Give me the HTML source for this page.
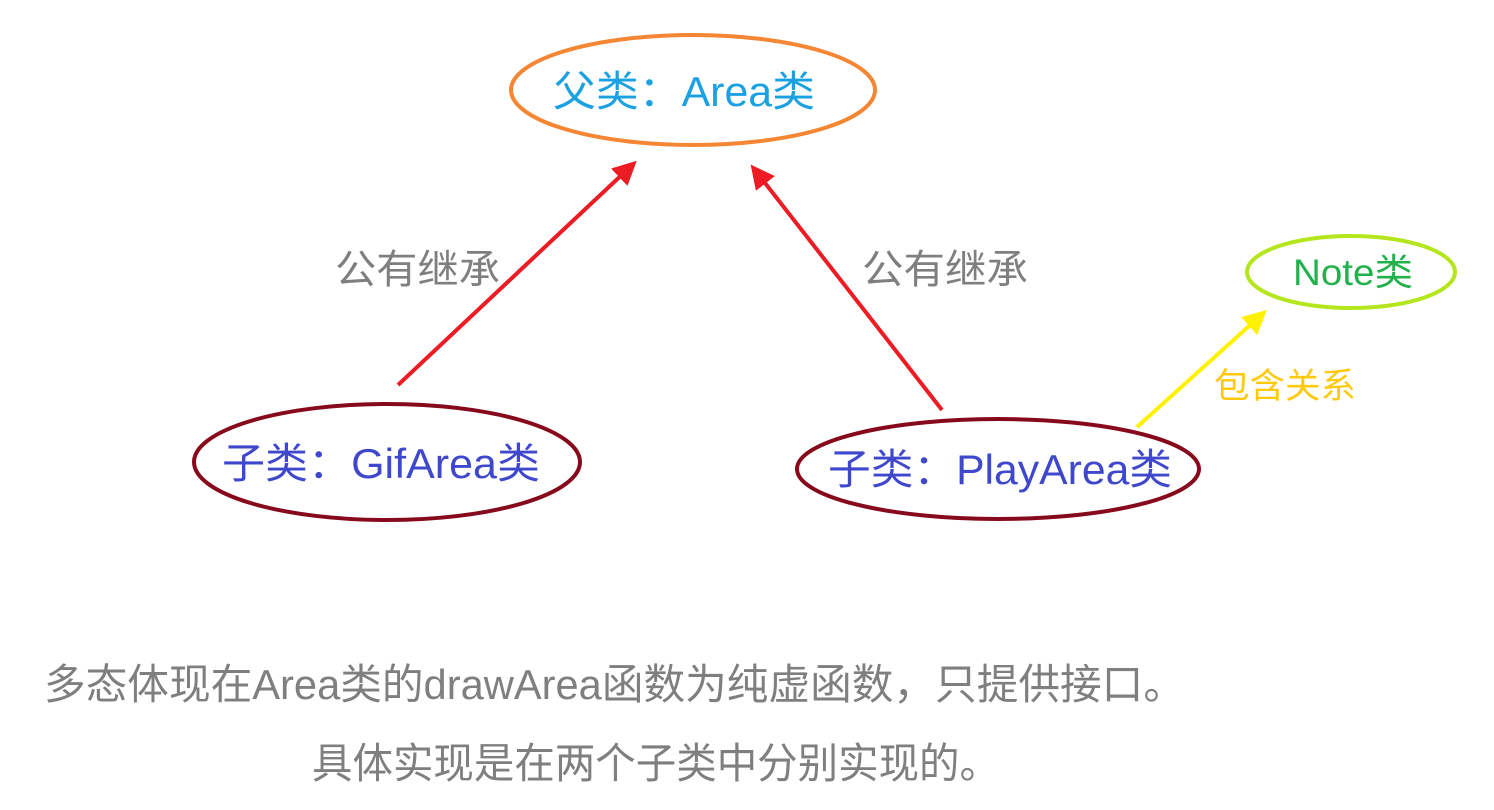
<!DOCTYPE html>
<html><head><meta charset="utf-8"><style>
html,body{margin:0;padding:0;background:#fff;width:1494px;height:810px;overflow:hidden}
svg{display:block}
text{font-family:"Liberation Sans","Noto Sans CJK SC",sans-serif}
</style></head><body>
<svg width="1494" height="810" viewBox="0 0 1494 810">
<defs>
<marker id="r" markerWidth="6" markerHeight="6" refX="3" refY="3" orient="auto" markerUnits="strokeWidth"><path d="M0,0 L6,3 L0,6 Z" fill="#ed1c24"/></marker>
<marker id="y" markerWidth="6" markerHeight="6" refX="3" refY="3" orient="auto" markerUnits="strokeWidth"><path d="M0,0 L6,3 L0,6 Z" fill="#fff200"/></marker>
</defs>
<ellipse cx="693" cy="90" rx="182" ry="55" fill="none" stroke="#f58634" stroke-width="4"/>
<text x="553" y="106" font-size="42" fill="#1ba1e2" textLength="262" lengthAdjust="spacingAndGlyphs">父类：Area类</text>
<ellipse cx="387" cy="462" rx="193" ry="58" fill="none" stroke="#870a1c" stroke-width="4"/>
<text x="222" y="478" font-size="42" fill="#3f48cc" textLength="318" lengthAdjust="spacingAndGlyphs">子类：GifArea类</text>
<ellipse cx="998" cy="469" rx="201" ry="50" fill="none" stroke="#870a1c" stroke-width="4"/>
<text x="828" y="484" font-size="42" fill="#3f48cc" textLength="344" lengthAdjust="spacingAndGlyphs">子类：PlayArea类</text>
<ellipse cx="1351" cy="272" rx="104" ry="36" fill="none" stroke="#b5e61d" stroke-width="4"/>
<text x="1293" y="285" font-size="37" fill="#22b14c" textLength="120" lengthAdjust="spacingAndGlyphs">Note类</text>
<line x1="398" y1="385" x2="628" y2="169" stroke="#ed1c24" stroke-width="4" marker-end="url(#r)"/>
<line x1="942" y1="410" x2="758" y2="174" stroke="#ed1c24" stroke-width="4" marker-end="url(#r)"/>
<line x1="1137" y1="427" x2="1258" y2="318" stroke="#fff200" stroke-width="4" marker-end="url(#y)"/>
<text x="335" y="283" font-size="40" fill="#7f7f7f" textLength="165" lengthAdjust="spacingAndGlyphs">公有继承</text>
<text x="862" y="283" font-size="40" fill="#7f7f7f" textLength="166" lengthAdjust="spacingAndGlyphs">公有继承</text>
<text x="1214" y="398" font-size="35" fill="#ffc90e" textLength="142" lengthAdjust="spacingAndGlyphs">包含关系</text>
<text x="44" y="699" font-size="42" fill="#7f7f7f" textLength="1141" lengthAdjust="spacingAndGlyphs">多态体现在Area类的drawArea函数为纯虚函数，只提供接口。</text>
<text x="312" y="778" font-size="42" fill="#7f7f7f" textLength="688" lengthAdjust="spacingAndGlyphs">具体实现是在两个子类中分别实现的。</text>
</svg>
</body></html>
